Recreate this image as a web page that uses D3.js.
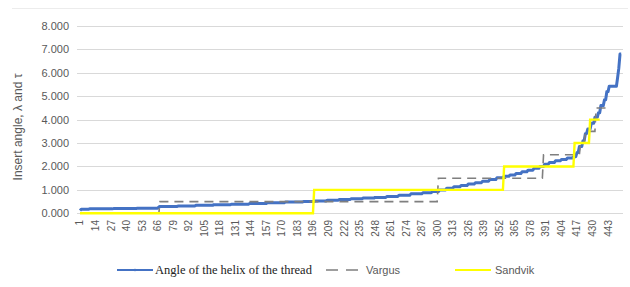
<!DOCTYPE html>
<html>
<head>
<meta charset="utf-8">
<script src="https://cdn.jsdelivr.net/npm/d3@7"></script>
<style>
  body { margin: 0; background: #fff; }
  svg { display: block; }
</style>
</head>
<body>
<svg id="chart" width="630" height="287"></svg>
<script>
// helix angle, sorted: [count, value] runs
var helixRuns = [
  [1, 0.12], [7, 0.17], [20, 0.19], [20, 0.2], [18, 0.22],
  [1, 0.27], [15, 0.29], [15, 0.31], [15, 0.34], [15, 0.37], [15, 0.39],
  [15, 0.42], [15, 0.45], [15, 0.48],
  [10, 0.5], [10, 0.53], [10, 0.56], [10, 0.59], [10, 0.62], [10, 0.65],
  [10, 0.68], [10, 0.72], [10, 0.77], [10, 0.83], [8, 0.88],
  [6, 0.93], [6, 1.0], [6, 1.07], [6, 1.13], [6, 1.19], [6, 1.25],
  [6, 1.31], [6, 1.37], [6, 1.44], [6, 1.52],
  [5, 1.58], [5, 1.64], [5, 1.7], [5, 1.77], [5, 1.84], [5, 1.92],
  [4, 2.0], [4, 2.1], [5, 2.17], [5, 2.24], [5, 2.3], [5, 2.36],
  [3, 2.42], [2, 2.6], [3, 2.85], [2, 3.1], [2, 3.4], [3, 3.6],
  [3, 3.85], [3, 4.1], [2, 4.3], [3, 4.6], [2, 4.85], [2, 5.2],
  [7, 5.43], [1, 5.8], [1, 6.2], [2, 6.8]
];
var vargusRuns = [[67, 0], [233, 0.5], [88, 1.5], [31, 2.5], [4, 3.0], [9, 3.5], [10, 4.5]];
var sandvikRuns = [[196, 0], [159, 1.0], [59, 2.0], [13, 3.0], [9, 4.0]];
var yTicks = [0, 1, 2, 3, 4, 5, 6, 7, 8];
var seriesNames = ["Angle of the helix of the thread", "Vargus", "Sandvik"];

function expand(runs){
  var out = [];
  runs.forEach(function(r){
    for(var k = 0; k < r[0]; k++){ out.push(r[1]); }
  });
  return out;
}

var helix = expand(helixRuns),
    vargus = expand(vargusRuns),
    sandvik = expand(sandvikRuns);
var categories = d3.range(1, helix.length + 1);

var svg = d3.select("#chart");

var x = d3.scaleBand().domain(categories).range([79.4, 621.8]);
var y = d3.scaleLinear().domain([0, 8]).range([213.3, 26]);
var cx = function(i){ return x(categories[i]) + x.bandwidth()/2; };

// faint frame line
svg.append("line")
  .attr("x1", 12).attr("x2", 628).attr("y1", 8.5).attr("y2", 8.5)
  .attr("stroke", "#ececec");

// gridlines
svg.append("g").selectAll("line").data(yTicks).enter().append("line")
  .attr("x1", 77).attr("x2", 623)
  .attr("y1", function(d){ return Math.round(y(d)) + 0.5; })
  .attr("y2", function(d){ return Math.round(y(d)) + 0.5; })
  .attr("stroke", "#d9d9d9").attr("stroke-width", 1);

// y axis labels
svg.append("g").selectAll("text").data(yTicks).enter().append("text")
  .attr("x", 69).attr("y", function(d){ return y(d) + 4; })
  .attr("text-anchor", "end")
  .attr("font-family", "Liberation Sans, Arial, sans-serif")
  .attr("font-size", 11).attr("fill", "#595959")
  .text(function(d){ return d3.format(".3f")(d); });

// y axis title
svg.append("text")
  .attr("transform", "translate(22,127) rotate(-90)")
  .attr("text-anchor", "middle")
  .attr("font-family", "Liberation Sans, Arial, sans-serif")
  .attr("font-size", 12).attr("fill", "#595959")
  .text("Insert angle, \u03bb and \u03c4");

// x axis labels every 13th category
var xTickVals = categories.filter(function(d){ return (d - 1) % 13 === 0; });
svg.append("g").selectAll("text").data(xTickVals).enter().append("text")
  .attr("transform", function(d){ return "translate(" + (x(d) + x.bandwidth()/2 + 3.5) + ",220) rotate(-90)"; })
  .attr("text-anchor", "end")
  .attr("font-family", "Liberation Sans, Arial, sans-serif")
  .attr("font-size", 10).attr("fill", "#595959")
  .text(function(d){ return d; });

var line = d3.line()
  .x(function(d, i){ return cx(i); })
  .y(function(d){ return y(d); });

svg.append("path").datum(helix)
  .attr("d", line).attr("fill", "none")
  .attr("stroke", "#4472c4").attr("stroke-width", 3)
  .attr("stroke-linejoin", "round");

svg.append("path").datum(vargus)
  .attr("d", line).attr("fill", "none")
  .attr("stroke", "#7f7f7f").attr("stroke-width", 1.6)
  .attr("stroke-dasharray", "9,6");

svg.append("path").datum(sandvik)
  .attr("d", line).attr("fill", "none")
  .attr("stroke", "#ffff00").attr("stroke-width", 2.4);

// legend
var lg = svg.append("g");
var legY = 270;
lg.append("line").attr("x1", 117).attr("x2", 153).attr("y1", legY).attr("y2", legY)
  .attr("stroke", "#4472c4").attr("stroke-width", 2.2);
lg.append("circle").attr("cx", 135).attr("cy", legY).attr("r", 1.3).attr("fill", "#4472c4");
lg.append("text").attr("x", 155).attr("y", legY + 4)
  .attr("font-family", "Liberation Serif, Times New Roman, serif")
  .attr("font-size", 12.5).attr("fill", "#222")
  .text(seriesNames[0]);

lg.append("line").attr("x1", 326).attr("x2", 363).attr("y1", legY).attr("y2", legY)
  .attr("stroke", "#7f7f7f").attr("stroke-width", 1.6).attr("stroke-dasharray", "12,8");
lg.append("text").attr("x", 366).attr("y", legY + 4)
  .attr("font-family", "Liberation Sans, Arial, sans-serif")
  .attr("font-size", 11).attr("fill", "#595959")
  .text(seriesNames[1]);

lg.append("line").attr("x1", 455).attr("x2", 491).attr("y1", legY).attr("y2", legY)
  .attr("stroke", "#ffff00").attr("stroke-width", 2.2);
lg.append("text").attr("x", 495).attr("y", legY + 4)
  .attr("font-family", "Liberation Sans, Arial, sans-serif")
  .attr("font-size", 11).attr("fill", "#595959")
  .text(seriesNames[2]);
</script>
</body>
</html>
